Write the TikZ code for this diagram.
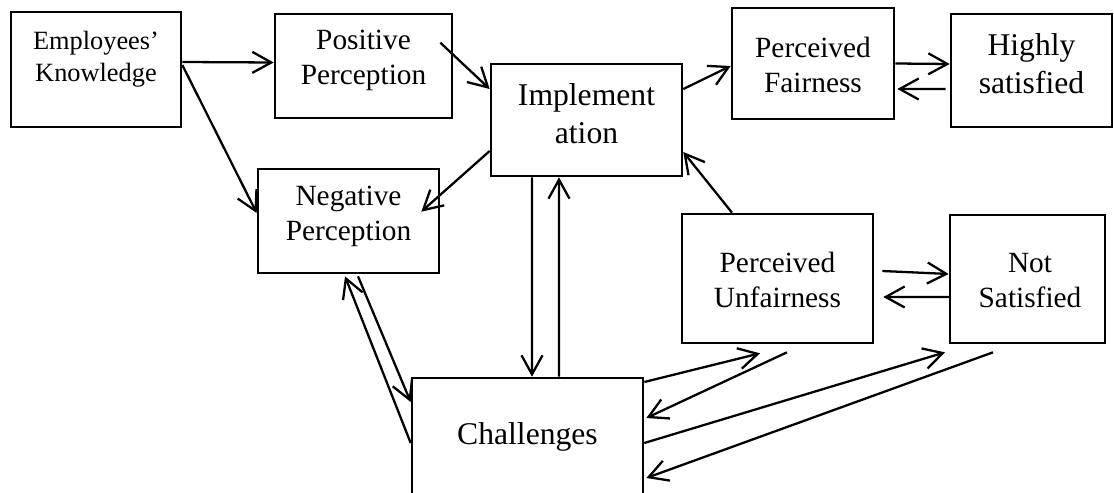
\documentclass[tikz,border=0pt]{standalone}
\usepackage{fontspec}
\setmainfont{Liberation Serif}
\usetikzlibrary{arrows.meta}

\begin{document}
\begin{tikzpicture}[
        box/.style={draw, line width=1.5pt, inner sep=0pt},
        flow/.style={line width=1.3pt, -{Straight Barb[length=0.38cm, width=0.42cm]}},
        smalltext/.style={align=center, font=\fontsize{15}{18.2}\selectfont},
        midtext/.style={align=center, font=\fontsize{16.7}{19.9}\selectfont},
        bigtext/.style={align=center, font=\fontsize{18}{21.6}\selectfont},
    ]
        % \draw[draw=black!20] (0, 0) grid (22, 10);
        \useasboundingbox (0, 0) rectangle (22.28, 9.84);

        \node[box, minimum width=3.4cm, minimum height=2.3cm] (employees-knowledge) at (1.92, 8.45) {};
        \node[smalltext] (employees-knowledge-text) at (1.92, 8.66) {Employees’\\Knowledge};

        \node[box, minimum width=3.54cm, minimum height=2.08cm] (positive-perception) at (7.27, 8.52) {};
        \node[midtext] (positive-perception-text) at (7.27, 8.63) {Positive\\Perception};

        \node[box, minimum width=3.82cm, minimum height=2.24cm] (implementation) at (11.73, 7.44) {};
        \node[bigtext] (implementation-text) at (11.73, 7.56) {Implement\\ation};

        \node[box, minimum width=3.24cm, minimum height=2.22cm] (perceived-fairness) at (16.26, 8.57) {};
        \node[midtext] (perceived-fairness-text) at (16.26, 8.55) {Perceived\\Fairness};

        \node[box, minimum width=3.22cm, minimum height=2.26cm] (highly-satisfied) at (20.63, 8.43) {};
        \node[bigtext] (highly-satisfied-text) at (20.63, 8.56) {Highly\\satisfied};

        \node[box, minimum width=3.62cm, minimum height=2.08cm] (negative-perception) at (6.97, 5.42) {};
        \node[midtext] (negative-perception-text) at (6.97, 5.51) {Negative\\Perception};

        \node[box, minimum width=3.82cm, minimum height=2.58cm] (perceived-unfairness) at (15.55, 4.27) {};
        \node[midtext] (perceived-unfairness-text) at (15.55, 4.24) {Perceived\\Unfairness};

        \node[box, minimum width=3.1cm, minimum height=2.56cm] (not-satisfied) at (20.55, 4.26) {};
        \node[midtext] (not-satisfied-text) at (20.6, 4.23) {Not\\Satisfied};

        \node[box, minimum width=4.62cm, minimum height=2.48cm] (challenges) at (10.55, 1.04) {};
        \node[bigtext] (challenges-text) at (10.55, 1.1) {Challenges};

        % knowledge and perception
        \draw[flow] ([yshift=0.15cm]employees-knowledge.east) -- ([yshift=0.07cm]positive-perception.west);
        \draw[flow] ([yshift=0.09cm]employees-knowledge.east) -- ([yshift=0.16cm]negative-perception.west);
        \draw[flow] ([xshift=-0.26cm, yshift=-0.6cm]positive-perception.north east) -- ([yshift=0.62cm]implementation.west);
        \draw[flow] ([yshift=-0.62cm]implementation.west) -- ([xshift=-0.38cm, yshift=-0.88cm]negative-perception.north east);

        % fairness
        \draw[flow] ([yshift=0.62cm]implementation.east) -- ([yshift=-0.05cm]perceived-fairness.west);
        \draw[flow] (perceived-fairness.east) -- ([yshift=0.13cm]highly-satisfied.west);
        \draw[flow] ([xshift=-0.08cm, yshift=-0.37cm]highly-satisfied.west) -- ([xshift=0.04cm, yshift=-0.51cm]perceived-fairness.east);

        % implementation and challenges
        \draw[flow] ([xshift=-1.09cm]implementation.south) -- ([xshift=0.09cm]challenges.north);
        \draw[flow] ([xshift=0.63cm]challenges.north) -- ([xshift=-0.55cm]implementation.south);
        \draw[flow] ([xshift=0.19cm, yshift=-0.04cm]negative-perception.south) -- ([yshift=0.76cm]challenges.west);
        \draw[flow] ([yshift=-0.06cm]challenges.west) -- ([xshift=-0.07cm, yshift=-0.04cm]negative-perception.south);

        % unfairness
        \draw[flow] ([xshift=-0.91cm]perceived-unfairness.north) -- ([yshift=-0.64cm]implementation.east);
        \draw[flow] ([xshift=0.16cm, yshift=0.15cm]perceived-unfairness.east) -- ([yshift=0.1cm]not-satisfied.west);
        \draw[flow] ([xshift=0.04cm, yshift=-0.36cm]not-satisfied.west) -- ([xshift=0.18cm, yshift=-0.37cm]perceived-unfairness.east);
        \draw[flow] ([yshift=1.16cm]challenges.east) -- ([xshift=-0.35cm, yshift=-0.18cm]perceived-unfairness.south);
        \draw[flow] ([xshift=0.19cm, yshift=-0.16cm]perceived-unfairness.south) -- ([xshift=0.04cm, yshift=0.44cm]challenges.east);
        \draw[flow] ([yshift=-0.06cm]challenges.east) -- ([xshift=-1.65cm, yshift=-0.16cm]not-satisfied.south);
        \draw[flow] ([xshift=-0.69cm, yshift=-0.16cm]not-satisfied.south) -- ([xshift=0.04cm, yshift=-0.76cm]challenges.east);

    \end{tikzpicture}
\end{document}
